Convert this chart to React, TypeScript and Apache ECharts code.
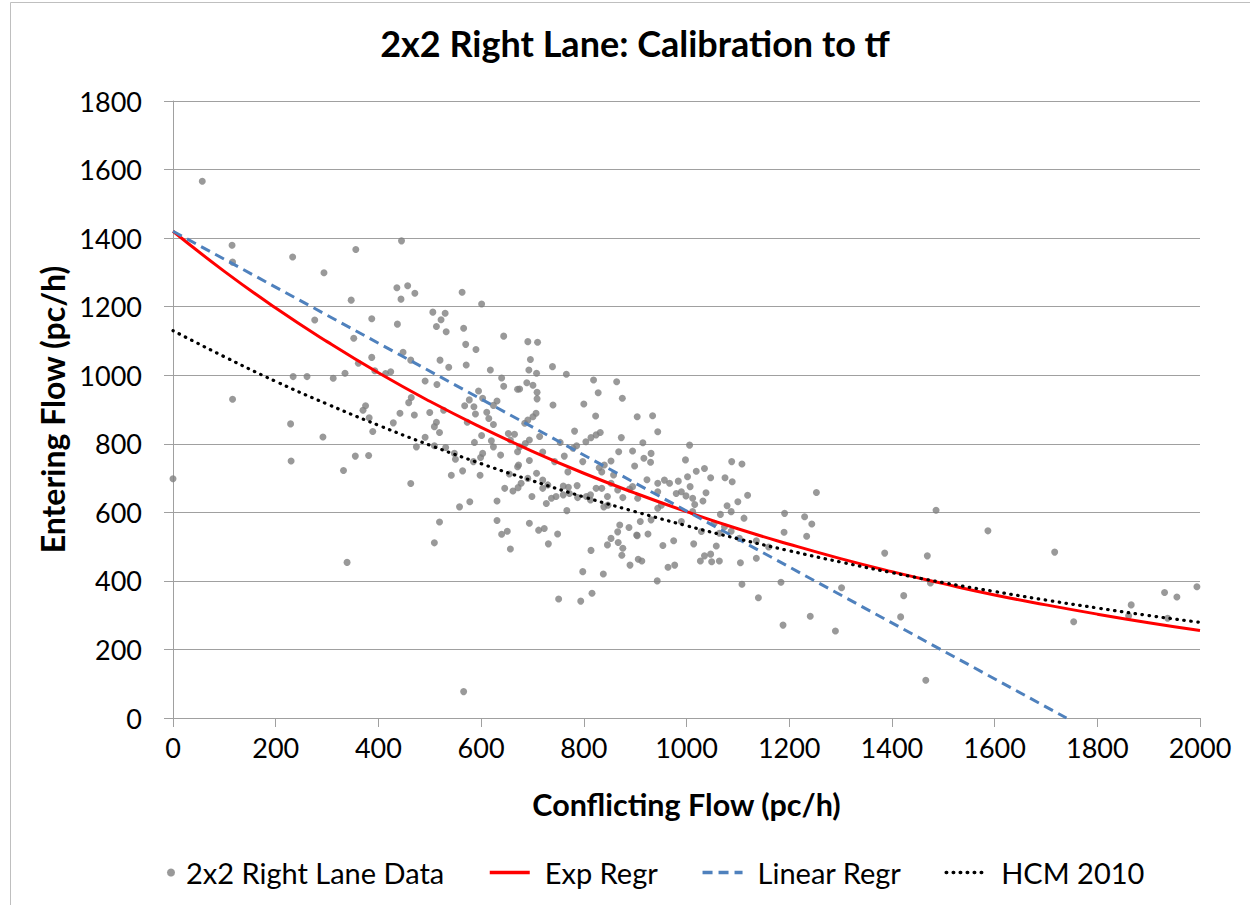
import React, { useEffect, useRef } from "react";
import * as echarts from "echarts";

const title = "2x2 Right Lane: Calibration to tf";
const xName = "Conflicting Flow (pc/h)";
const yName = "Entering Flow (pc/h)";
const seriesNames = ["2x2 Right Lane Data", "Exp Regr", "Linear Regr", "HCM 2010"];

const dataPoints: number[][] = [
  [57,1566],[115,1379],[116,1330],[233,1345],[294,1299],[356,1367],[347,1219],[276,1161],[387,1165],[352,1108],
  [387,1052],[361,1035],[393,1013],[234,996],[261,996],[312,991],[335,1006],[116,930],[370,898],[375,911],
  [382,876],[389,836],[229,858],[292,820],[230,750],[355,764],[381,766],
  [0,698],[332,722],[339,454],
  [445,1392],[436,1255],[457,1261],[471,1239],[444,1222],[563,1242],[601,1208],[437,1149],[506,1184],[530,1181],
  [522,1162],[513,1142],[532,1127],[566,1137],[644,1114],[570,1090],[590,1075],[448,1067],[463,1044],[520,1044],
  [537,1023],[571,1030],[414,1005],[424,1010],[618,1015],[491,983],[514,973],[640,992],[644,968],[671,959],
  [595,954],[603,933],[464,935],[459,920],[577,928],[568,911],[586,908],[631,925],[624,912],[527,898],
  [442,889],[470,884],[500,891],[589,887],[611,892],[615,874],[513,863],[573,863],[624,856],[429,861],
  [509,850],[519,833],[491,819],[474,791],[509,794],[531,789],[548,772],[550,755],[587,804],[601,824],
  [620,809],[624,791],[603,772],[599,760],[585,748],[638,767],[653,830],[657,811],[671,733],
  [655,712],[646,670],[662,662],[672,672],[564,721],[542,708],[598,708],[463,684],[558,616],[578,631],[631,633],
  [519,572],[631,576],[640,536],[651,545],[509,511],[657,493],[566,77],
  [691,1098],[710,1096],[696,1046],[693,1015],[708,1006],[739,1025],[766,1003],[819,986],[864,981],[675,960],
  [689,978],[701,971],[709,950],[709,931],[828,949],[875,933],[740,913],[800,916],[707,889],[701,879],
  [691,869],[685,860],[823,881],[904,879],[782,837],[665,828],[824,826],[832,833],[814,818],[804,806],
  [786,794],[779,787],[714,821],[694,811],[686,801],[675,791],[671,777],[754,804],[720,776],[762,764],
  [873,818],[868,777],[895,779],[899,735],[853,750],[840,738],[830,730],[798,748],[743,748],[694,751],[673,738],
  [708,714],[691,699],[678,685],[720,694],[730,680],[720,670],[699,646],[737,641],[727,626],[746,646],
  [760,677],[770,673],[760,651],[772,655],[769,718],[787,678],[788,643],[767,605],[805,646],[813,651],
  [824,670],[835,670],[813,636],[835,718],[853,685],[866,665],[889,668],[895,675],[876,643],[846,646],
  [847,621],[839,616],[858,709],[694,568],[712,548],[723,553],[749,537],[731,508],[814,489],[798,427],
  [838,420],[751,347],[794,341],[816,364],[870,563],[888,556],[866,543],[903,534],[853,524],[846,505],
  [867,512],[876,495],[874,475],[890,446],[906,463],
  [934,882],[944,835],[915,803],[917,758],[931,772],[930,746],[1006,796],[998,753],[1035,728],[1019,720],
  [1047,701],[1002,704],[984,691],[1088,748],[1108,741],[1075,701],[1089,689],[923,695],[957,694],[967,685],
  [944,685],[944,660],[1007,675],[980,655],[990,660],[999,648],[1012,641],[1038,657],[1032,633],[1016,623],
  [1012,602],[1119,650],[1100,631],[1079,619],[1087,602],[1066,594],[905,641],[951,621],[944,612],[990,573],[1112,583],
  [910,573],[931,578],[904,532],[925,537],[954,503],[975,517],[913,458],[964,440],[977,446],[943,400],
  [1014,508],[1029,544],[1058,502],[1035,473],[1047,478],[1027,458],[1049,456],[1064,458],[1054,568],[1064,539],
  [1074,558],[1087,545],[1103,524],[1105,453],[1108,390],[1136,466],[1140,351],
  [1253,658],[1191,597],[1230,587],[1244,566],[1190,542],[1234,530],[1136,517],[1160,499],[1184,396],[1386,481],
  [1302,380],[1188,271],[1241,297],[1290,254],
  [1486,606],[1587,546],[1717,484],[1469,473],[1475,394],[1423,357],[1417,295],[1466,110],[1754,281],[1866,330],
  [1861,298],[1931,366],[1955,353],[1937,291],[1994,383]
];

const curveX = [0,100,200,300,400,500,600,700,800,900,1000,1100,1200,1300,1400,1500,1600,1700,1800,1900,2000];
const expRegrY = [1420,1303,1196,1098,1007,924,848,778,714,656,602,552,507,465,427,392,359,330,303,278,255];
const hcmY = [1130,1054,982,916,854,796,742,692,645,602,561,523,488,455,424,395,369,344,321,299,279];
const linearX = [0, 1740];
const linearY = [1420, 0];

const FONT = "Lato, 'Open Sans', sans-serif";

export default function App() {
  const ref = useRef<HTMLDivElement>(null);
  useEffect(() => {
    if (!ref.current) return;
    const chart = echarts.init(ref.current, undefined, { renderer: "svg" });
    const axisColor = "#a0a0a0";
    const legendText = { fontFamily: FONT, fontSize: 29, color: "#000" };
    const hideSym = { opacity: 0 };
    chart.setOption({
      animation: false,
      backgroundColor: "#ffffff",
      textStyle: { fontFamily: FONT },
      title: {
        text: title,
        left: 630,
        textAlign: "center",
        top: 20,
        textStyle: { fontFamily: FONT, fontWeight: "bold", fontSize: 36, color: "#000" },
      },
      graphic: [
        {
          type: "rect",
          shape: { x: 10.5, y: 2.5, width: 1260, height: 920 },
          style: { fill: "none", stroke: "#bfbfbf", lineWidth: 1 },
          silent: true,
        },
      ],
      grid: { left: 173, right: 50, top: 101, bottom: 187, containLabel: false },
      legend: [
        {
          data: [{ name: seriesNames[0], icon: "circle" }],
          top: 853,
          left: 162,
          itemWidth: 12,
          itemHeight: 8,
          textStyle: { ...legendText, padding: [0, 0, 0, 4] },
        },
        {
          data: [
            { name: seriesNames[1], itemStyle: hideSym, lineStyle: { width: 3.5 } },
            { name: seriesNames[2], itemStyle: hideSym, lineStyle: { width: 3.5 } },
            { name: seriesNames[3], itemStyle: hideSym, lineStyle: { width: 3.5 } },
          ],
          top: 853,
          left: 483,
          itemWidth: 40,
          itemHeight: 8,
          itemGap: 43,
          textStyle: { ...legendText, padding: [0, 0, 0, 10] },
        },
      ],
      xAxis: {
        type: "value",
        min: 0,
        max: 2000,
        interval: 200,
        name: xName,
        nameLocation: "middle",
        nameGap: 70,
        nameTextStyle: { fontFamily: FONT, fontWeight: "bold", fontSize: 30.5, color: "#000" },
        axisLine: { show: true, lineStyle: { color: axisColor, width: 1 } },
        axisTick: { show: true, length: 9, lineStyle: { color: axisColor } },
        axisLabel: {
          fontFamily: FONT, fontSize: 27, color: "#000", margin: 16,
          formatter: (v: number) => String(v),
        },
        splitLine: { show: false },
      },
      yAxis: {
        type: "value",
        min: 0,
        max: 1800,
        interval: 200,
        name: yName,
        nameLocation: "middle",
        nameGap: 104,
        nameTextStyle: { fontFamily: FONT, fontWeight: "bold", fontSize: 32, color: "#000" },
        axisLine: { show: true, lineStyle: { color: axisColor, width: 1 } },
        axisTick: { show: true, length: 9, lineStyle: { color: axisColor } },
        axisLabel: {
          fontFamily: FONT, fontSize: 27, color: "#000", margin: 31,
          formatter: (v: number) => String(v),
        },
        splitLine: { show: true, lineStyle: { color: axisColor, width: 1 } },
      },
      series: [
        {
          name: seriesNames[0],
          type: "scatter",
          data: dataPoints,
          symbol: "circle",
          symbolSize: 7,
          itemStyle: { color: "#808080" },
          z: 2,
        },
        {
          name: seriesNames[1],
          type: "line",
          data: curveX.map((x, i) => [x, expRegrY[i]]),
          symbol: "none",
          showSymbol: false,
          smooth: true,
          lineStyle: { color: "#ff0000", width: 3 },
          itemStyle: { color: "#ff0000" },
          z: 3,
        },
        {
          name: seriesNames[2],
          type: "line",
          data: linearX.map((x, i) => [x, linearY[i]]),
          symbol: "none",
          showSymbol: false,
          lineStyle: { color: "#4f81bd", width: 3, type: [10, 6] },
          itemStyle: { color: "#4f81bd" },
          z: 3,
        },
        {
          name: seriesNames[3],
          type: "line",
          data: curveX.map((x, i) => [x, hcmY[i]]),
          symbol: "none",
          showSymbol: false,
          smooth: true,
          lineStyle: { color: "#000000", width: 3.2, type: [0.5, 6.5], cap: "round" },
          itemStyle: { color: "#000000" },
          z: 4,
        },
      ],
    });
    return () => chart.dispose();
  }, []);
  return (
    <div
      ref={ref}
      style={{ position: "fixed", left: 0, top: 0, width: 1250, height: 905 }}
    />
  );
}
